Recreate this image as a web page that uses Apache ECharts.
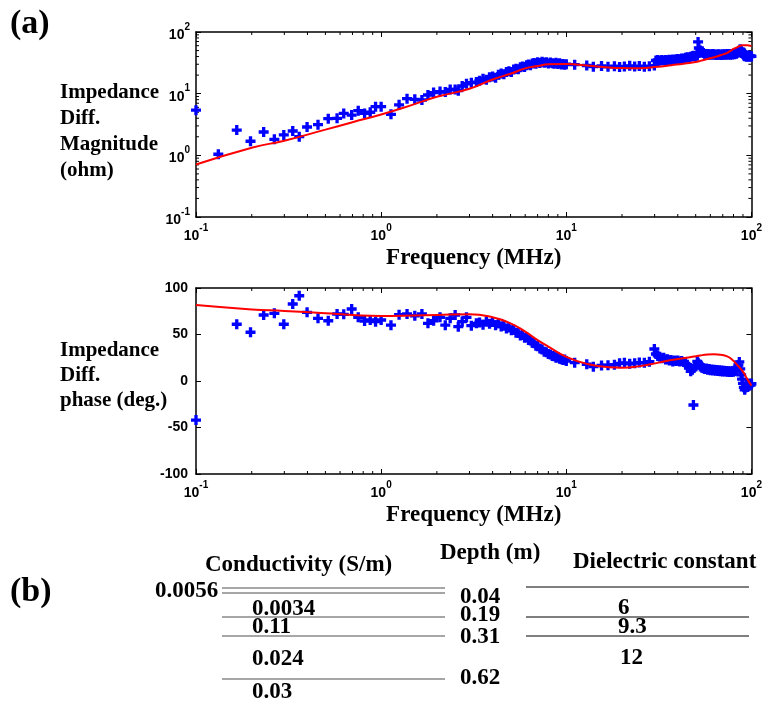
<!DOCTYPE html>
<html>
<head>
<meta charset="utf-8">
<script src="https://cdn.jsdelivr.net/npm/echarts@6/dist/echarts.min.js"></script>
<style>
html, body { margin: 0; padding: 0; background: #fff; }
#chart { width: 765px; height: 706px; }
</style>
</head>
<body>
<div id="chart"></div>
<script>
// measured frequencies (MHz)
var freq = [
    0.1, 0.132, 0.166, 0.197, 0.232, 0.265, 0.298, 0.333, 0.361, 0.398,
    0.456, 0.518, 0.578, 0.628, 0.693, 0.752, 0.814, 0.873, 0.933, 1.0,
    1.13, 1.25, 1.38, 1.52, 1.66, 1.79, 1.92, 2.08, 2.22, 2.36,
    2.51, 2.61, 2.74, 2.89, 3.07, 3.27,
    3.4, 3.55, 3.7, 3.85, 4.0, 4.15, 4.3, 4.45, 4.6, 4.75,
    4.9, 5.05, 5.2, 5.35, 5.5, 5.65, 5.8, 5.95, 6.1, 6.25,
    6.4, 6.55, 6.7, 6.85, 7.0, 7.2, 7.4, 7.6, 7.8, 8.0,
    8.2, 8.4, 8.6, 8.8, 9.0, 9.2, 9.4, 9.6, 9.8, 10.0,
    11.1, 12.9, 14.0, 15.5, 16.8, 18.2, 19.4, 20.6, 22.0, 23.4,
    24.8, 26.4, 28.1, 29.9,
    30.5, 31.2, 32, 32.8, 33.6, 34.4, 35.2, 36, 36.8, 37.6,
    38.4, 39.2, 40, 41, 42, 43, 44, 45, 46, 47,
    48, 48.6, 49.5,
    50, 51, 51.5, 52, 53, 54, 55, 56, 57, 58,
    59, 60, 61, 62, 63, 64, 65, 66, 67, 68,
    69, 70, 71, 72, 73, 74, 75, 76, 77, 78,
    79, 80, 81, 82, 83, 84, 85, 86, 87, 88,
    89, 90, 91, 92, 93, 94, 95, 96, 97, 98,
    99, 100
];
// measured impedance diff. magnitude (ohm)
var magnitude = [
    5.4, 1.04, 2.57, 1.69, 2.39, 1.82, 2.14, 2.48, 2.01, 2.88,
    3.14, 3.93, 3.98, 4.79, 4.5, 5.3, 4.79, 5.0, 6.15, 6.15,
    4.62, 6.6, 8.3, 8.1, 7.9, 9.5, 10.4, 10.8, 10.6, 11.7,
    11.7, 11.2, 13.3, 14.5, 15.1, 15.4,
    16.2, 17.5, 16.8, 18.4, 18.9, 18.1, 20.3, 21.2, 20.6, 22.4,
    23.1, 22.5, 24.6, 25.4, 24.8, 26.9, 27.6, 27.0, 28.8, 29.6,
    29.0, 30.8, 31.4, 30.6, 32.2, 31.5, 32.8, 31.7, 32.4, 30.9,
    32.0, 31.2, 30.5, 31.8, 30.2, 31.0, 29.6, 30.4, 29.5, 30.1,
    29.5, 28.6, 27.4, 28.1, 27.2, 27.8, 27.0, 27.6, 28.3, 27.5,
    28.0, 27.4, 27.9, 28.5,
    34.5, 35.2, 34.3, 35.0, 34.6, 35.3, 34.8, 35.5, 35.0, 35.8,
    35.2, 36.0, 36.5, 36.2, 37.3, 37.0, 38.2, 38.8, 38.3, 39.6,
    40.4, 41.2, 40.5,
    40.2, 41.5, 69, 55, 50, 47, 45.5, 44, 43.2, 44.1,
    42.8, 43.5, 42.6, 43.8, 42.9, 43.3, 42.4, 43.6, 42.7, 43.1,
    42.5, 43.7, 42.8, 43.4, 42.6, 43.9, 43.0, 43.5, 42.7, 44.0,
    43.2, 44.3, 43.6, 45.1, 44.4, 46.2, 47.5, 49.8, 52.5, 50.6,
    47.0, 44.2, 41.5, 40.3, 41.8, 39.6, 41.2, 40.0, 41.5, 39.8,
    41.0, 40.2
];
// measured impedance diff. phase (deg.)
var phase = [
    -42, null, 61, 52.4, 71, 72.8, 61, 82.8, 91.7, 73.8,
    67.4, 64.8, 72, 71.7, 77.4, 68.5, 64.5, 65.6, 63.8, 65.6,
    60, 71.3, 72, 70.2, 72, 62, 64.8, 68.5, 60, 67.4,
    71, 58.4, 63.8, 68.5, 59.5, 62,
    63, 60.5, 64, 61.5, 63.5, 60, 62, 58.5, 59.5, 56.5,
    57.5, 54.5, 55, 52, 51.5, 49, 49.5, 46.5, 47, 44,
    43.5, 41, 40.5, 38, 37.5, 35, 34, 31.5, 31, 29,
    28.5, 27, 26.5, 25, 25.5, 24, 23.5, 22.5, 23, 21.5,
    19.7, 18, 15.4, 16.7, 17, 17.5, 19, 19.5, 18.5, 19.2,
    19.8, 19.5, 20.8, 34.4,
    29, 27, 26, 24.5, 25, 23, 23.5, 22, 22.5, 21,
    22, 21.5, 22, 21, 21.5, 20.5, 19, 17.5, 14, 10.5,
    12, -25.8, 16,
    16.5, 21, 19.5, 18, 15.5, 14.2, 13.6, 12.8, 13.5, 12.2,
    12.9, 11.6, 12.4, 11.3, 12.0, 11.0, 11.8, 10.7, 11.5, 10.5,
    11.2, 10.3, 11.0, 10.1, 10.8, 9.9, 10.6, 9.8, 10.5, 9.7,
    10.4, 9.9, 10.8, 11.5, 12.3, 14.5, 17.2, 20.5, 13.0, 6.5,
    2.0, -2.5, -6.8, -9.5, -7.0, -4.2, -6.5, -3.5, -5.0, -2.8,
    -4.5, -3.0
];
// model fit (red curves)
var modelFreq = [0.1, 0.2, 0.3, 0.5, 0.7, 1, 1.5, 2, 3, 4, 5, 6, 7, 8, 10, 13, 17, 20, 25, 31,
                 37, 43, 48, 53, 58, 63, 68, 74, 79, 84, 90, 95, 100];
var modelMag = [0.71, 1.33, 1.73, 2.61, 3.44, 4.6, 6.7, 8.9, 12.0, 17, 21, 25.7, 28, 29.9, 30.2, 28.5, 26.6, 26.0, 25.8, 27.2,
                29, 30.6, 32, 34, 36.5, 39, 42, 46, 52, 57, 61, 61, 59];
var modelPhase = [81.7, 77, 75.3, 72.8, 71, 70, 70.5, 71, 71.7, 68.5, 62, 53, 44, 37, 26, 18.3, 14.8, 14.3, 16, 19.5,
                  22.6, 24.5, 26, 27.5, 28.5, 28.8, 28.3, 26.5, 22.6, 17, 10, 2, -5];
// log axis minor tick values
var minorTicks = [0.2, 0.3, 0.4, 0.5, 0.6, 0.7, 0.8, 0.9, 2, 3, 4, 5, 6, 7, 8, 9, 20, 30, 40, 50, 60, 70, 80, 90];

// (b) layer model
var condTitle = 'Conductivity (S/m)';
var depthTitle = 'Depth (m)';
var dielTitle = 'Dielectric constant';
var condLabels = ['0.0056', '0.0034', '0.11', '0.024', '0.03'];
var depthLabels = ['0.04', '0.19', '0.31', '0.62'];
var dielLabels = ['6', '9.3', '12'];

var SERIF = '"Times New Roman", "Liberation Serif", serif';
var SANS = 'Arial, "Liberation Sans", sans-serif';

function pairs(xs, ys) {
    var out = [];
    for (var i = 0; i < xs.length; i++) {
        if (ys[i] !== null) out.push([xs[i], ys[i]]);
    }
    return out;
}

var tickStyle = {stroke: '#000', lineWidth: 1};

// minor ticks on bottom & top edges
function xMinor(params, api) {
    var p = api.coord([api.value(0), api.value(1)]);
    var cs = params.coordSys;
    var b = cs.y + cs.height;
    return {type: 'group', children: [
        {type: 'line', shape: {x1: p[0], y1: b, x2: p[0], y2: b - 3}, style: tickStyle},
        {type: 'line', shape: {x1: p[0], y1: cs.y, x2: p[0], y2: cs.y + 3}, style: tickStyle}
    ]};
}
// minor ticks on left & right edges
function yMinor(params, api) {
    var p = api.coord([api.value(0), api.value(1)]);
    var cs = params.coordSys;
    var r = cs.x + cs.width;
    return {type: 'group', children: [
        {type: 'line', shape: {x1: cs.x, y1: p[1], x2: cs.x + 3, y2: p[1]}, style: tickStyle},
        {type: 'line', shape: {x1: r, y1: p[1], x2: r - 3, y2: p[1]}, style: tickStyle}
    ]};
}

function powLabel(v) {
    var e = Math.round(Math.log(v) / Math.LN10);
    return '{b|10}{s|' + e + '}';
}
var powRich = {
    b: {fontSize: 14, fontWeight: 'bold', fontFamily: SANS, color: '#000', lineHeight: 20, verticalAlign: 'bottom'},
    s: {fontSize: 10, fontWeight: 'bold', fontFamily: SANS, color: '#000', lineHeight: 11, verticalAlign: 'top'}
};

var axisLine = {show: true, onZero: false, lineStyle: {color: '#000', width: 1.5}};
var plus = 'path://M3,0h3v3h3v3h-3v3h-3v-3h-3v-3h3z';

function logX(grid, pos, labels) {
    return {
        type: 'log', logBase: 10, gridIndex: grid, position: pos, min: 0.1, max: 100,
        axisLine: axisLine,
        axisTick: {show: true, inside: true, length: 5, lineStyle: {color: '#000', width: 1}},
        axisLabel: {show: labels, formatter: powLabel, rich: powRich, margin: 6},
        splitLine: {show: false},
        name: labels ? 'Frequency (MHz)' : '',
        nameLocation: 'middle',
        nameGap: 30,
        nameTextStyle: {fontFamily: SERIF, fontWeight: 'bold', fontSize: 23, color: '#000'}
    };
}

var option = {
    animation: false,
    backgroundColor: '#fff',
    grid: [
        {left: 196, top: 32, width: 559, height: 185},
        {left: 196, top: 288, width: 559, height: 186}
    ],
    xAxis: [logX(0, 'bottom', true), logX(0, 'top', false), logX(1, 'bottom', true), logX(1, 'top', false)],
    yAxis: [
        {
            type: 'log', logBase: 10, gridIndex: 0, position: 'left', min: 0.1, max: 100,
            axisLine: axisLine,
            axisTick: {show: true, inside: true, length: 5},
            axisLabel: {formatter: powLabel, rich: powRich, margin: 6},
            splitLine: {show: false}
        },
        {
            type: 'log', logBase: 10, gridIndex: 0, position: 'right', min: 0.1, max: 100,
            axisLine: axisLine,
            axisTick: {show: true, inside: true, length: 5},
            axisLabel: {show: false},
            splitLine: {show: false}
        },
        {
            type: 'value', gridIndex: 1, position: 'left', min: -100, max: 100, interval: 50,
            axisLine: axisLine,
            axisTick: {show: true, inside: true, length: 5},
            axisLabel: {fontSize: 14, fontWeight: 'bold', fontFamily: SANS, color: '#000', margin: 8},
            splitLine: {show: false}
        },
        {
            type: 'value', gridIndex: 1, position: 'right', min: -100, max: 100, interval: 50,
            axisLine: axisLine,
            axisTick: {show: true, inside: true, length: 5},
            axisLabel: {show: false},
            splitLine: {show: false}
        }
    ],
    series: [
        {
            type: 'custom', xAxisIndex: 0, yAxisIndex: 0, silent: true,
            data: minorTicks.map(function (v) { return [v, 1]; }),
            renderItem: xMinor
        },
        {
            type: 'custom', xAxisIndex: 0, yAxisIndex: 0, silent: true,
            data: minorTicks.map(function (v) { return [1, v]; }),
            renderItem: yMinor
        },
        {
            type: 'custom', xAxisIndex: 2, yAxisIndex: 2, silent: true,
            data: minorTicks.map(function (v) { return [v, 0]; }),
            renderItem: xMinor
        },
        {
            type: 'line', xAxisIndex: 0, yAxisIndex: 0, smooth: true, showSymbol: false,
            data: pairs(modelFreq, modelMag),
            lineStyle: {color: '#ff0000', width: 2}
        },
        {
            type: 'scatter', xAxisIndex: 0, yAxisIndex: 0,
            symbol: plus, symbolSize: 10,
            itemStyle: {color: '#0000ff', opacity: 1},
            data: pairs(freq, magnitude)
        },
        {
            type: 'line', xAxisIndex: 2, yAxisIndex: 2, smooth: true, showSymbol: false,
            data: pairs(modelFreq, modelPhase),
            lineStyle: {color: '#ff0000', width: 2}
        },
        {
            type: 'scatter', xAxisIndex: 2, yAxisIndex: 2,
            symbol: plus, symbolSize: 10,
            itemStyle: {color: '#0000ff', opacity: 1},
            data: pairs(freq, phase)
        }
    ],
    graphic: []
};

// text helper for graphic layer
function txt(s, x, y, size, align) {
    return {
        type: 'text', x: x, y: y, silent: true,
        style: {text: s, fill: '#000', font: 'bold ' + size + 'px ' + SERIF,
                textAlign: align || 'left', textVerticalAlign: 'middle'}
    };
}
function hline(x1, x2, y, color, w) {
    return {type: 'line', silent: true, shape: {x1: x1, y1: y, x2: x2, y2: y},
            style: {stroke: color, lineWidth: w}};
}

var g = option.graphic;
g.push(txt('(a)', 10, 24, 34));
g.push(txt('(b)', 10, 592, 34));
// y axis titles
g.push({type: 'text', x: 60, y: 80, silent: true,
        style: {text: 'Impedance\nDiff.\nMagnitude\n(ohm)', fill: '#000', lineHeight: 26,
                font: 'bold 21px ' + SERIF}});
g.push({type: 'text', x: 60, y: 338, silent: true,
        style: {text: 'Impedance\nDiff.\nphase (deg.)', fill: '#000', lineHeight: 25,
                font: 'bold 21px ' + SERIF}});

// (b) column headers
g.push(txt(condTitle, 205, 565, 23));
g.push(txt(depthTitle, 440, 553, 23));
g.push(txt(dielTitle, 573, 562, 23));

// conductivity column
var condPos = [[155, 591], [252, 609], [252, 627], [252, 659], [252, 692]];
condLabels.forEach(function (s, i) { g.push(txt(s, condPos[i][0], condPos[i][1], 23)); });
[588, 593, 617, 636, 679].forEach(function (y) { g.push(hline(222, 445, y, '#888', 1.5)); });

// depth column
var depthY = [597, 615, 637, 678];
depthLabels.forEach(function (s, i) { g.push(txt(s, 460, depthY[i], 23)); });

// dielectric column
var dielPos = [[618, 608], [618, 627], [620, 658]];
dielLabels.forEach(function (s, i) { g.push(txt(s, dielPos[i][0], dielPos[i][1], 23)); });
[587, 617, 636].forEach(function (y) { g.push(hline(526, 749, y, '#000', 1)); });

var chart = echarts.init(document.getElementById('chart'));
chart.setOption(option);
</script>
</body>
</html>
